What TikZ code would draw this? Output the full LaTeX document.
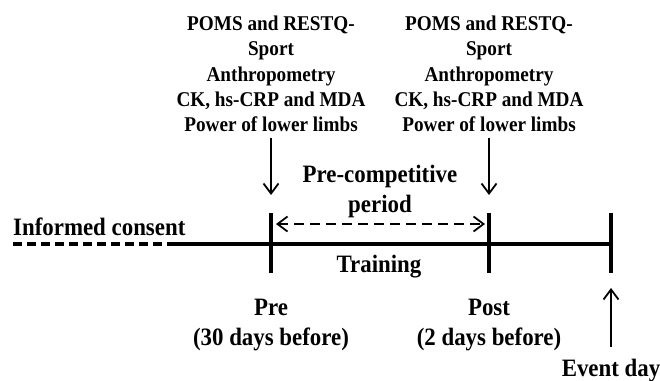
\documentclass[tikz,border=0pt]{standalone}
\usepackage{fontspec}
\setmainfont[FakeStretch=0.915]{Liberation Serif}
\usetikzlibrary{arrows.meta,positioning}

\begin{document}
\begin{tikzpicture}[x=1pt, y=-1pt, label/.style={font=\fontsize{25}{30}\selectfont\bfseries, align=center, inner sep=0}, tests/.style={font=\fontsize{21}{25.25}\selectfont\bfseries, align=center, inner sep=0}, timeline/.style={line width=3.5pt}, marker/.style={-{Straight Barb[length=10pt, width=15pt, line width=1.8pt]}, line width=1.7pt}, period/.style={{Straight Barb[length=10pt, width=15pt, line width=1.8pt]}-{Straight Barb[length=10pt, width=15pt, line width=1.8pt]}, line width=1.8pt, dash pattern=on 10pt off 6pt}]

\useasboundingbox (0,0) rectangle (660,380);

% TIMELINE

\coordinate (consent) at (13,244);
\coordinate (training-start) at (174,244);
\coordinate (pre) at (271,244);
\coordinate (post) at (489,244);
\coordinate (event) at (611,244);

\draw [timeline, dash pattern=on 9pt off 5pt] (consent) -- (training-start);
\draw [timeline] (training-start) -- (event);

\draw [timeline] (271,213) coordinate (pre-top) -- (271,273) coordinate (pre-bottom);
\draw [timeline] (489,213) coordinate (post-top) -- (489,273) coordinate (post-bottom);
\draw [timeline] (611,213) coordinate (event-top) -- (611,273) coordinate (event-bottom);

% LABELS

\node [label, anchor=base west] (consent-label) at (13,235) {Informed consent};
\node [label, anchor=base] (training-label) at (379,272) {Training};

\node [label, below=26pt of pre-bottom] (pre-label) {Pre\\(30 days before)};
\node [label, below=26pt of post-bottom] (post-label) {Post\\(2 days before)};
\node [label, anchor=base] (event-label) at (611,376) {Event day};

\node [label, anchor=base] (period-label) at (380,182) {Pre-competitive};
\node [label, anchor=base] (period-label-2) at (380,212) {period};

% TESTS

\node [tests, anchor=south] (pre-tests) at (271,132)
{POMS and RESTQ-\\Sport\\Anthropometry\\CK, hs-CRP and MDA\\Power of lower limbs};

\node [tests, anchor=south] (post-tests) at (489,132)
{POMS and RESTQ-\\Sport\\Anthropometry\\CK, hs-CRP and MDA\\Power of lower limbs};

% ARROWS

\coordinate (pre-in) at (271,195);
\coordinate (post-in) at (489,195);
\coordinate (period-start) at (276,224);
\coordinate (period-end) at (485,224);
\coordinate (event-in) at (611,288);
\coordinate (event-out) at (611,347);

\draw [marker, shorten <=6pt] (pre-tests.south) -- (pre-in);
\draw [marker, shorten <=6pt] (post-tests.south) -- (post-in);
\draw [period] (period-start) -- (period-end);
\draw [marker] (event-out) -- (event-in);

\end{tikzpicture}
\end{document}
